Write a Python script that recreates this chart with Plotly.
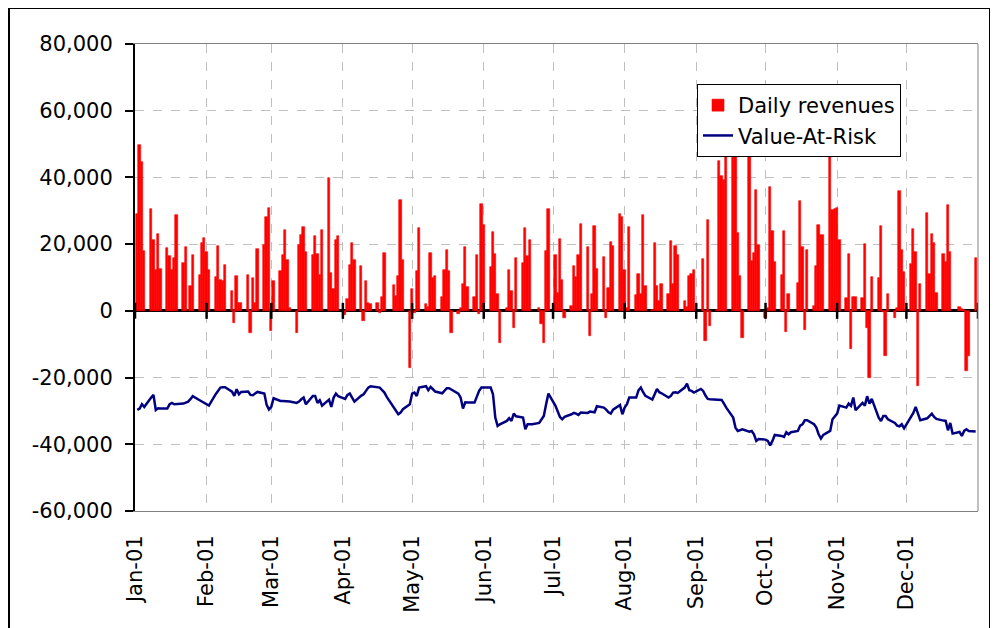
import pandas as pd
import plotly.graph_objects as go

# ---- data ----
rev_jan = [None, 29000, 49700, 44500, 18000, 30500, 21300, 12200, 22900, 12400, 18900, 16400, 12200, 15700, 28800,
           14300, 19100, None, 7400, 16700, 10900, 20400, 21900]
rev_feb = [17500, 12300, 10300, 19400, 9300, 9000, 13700, 5900, -3600, 10600, 2300, 2300, 10700, -6700, 9900, 2500,
           18600, 19600, 28200, 30800]
rev_mar = [-6000, 9100, 11900, 16600, 24300, 15100, 1000, -6700, 19700, 22700, 25100, 17700, 16700, 22300, 17000,
           10900, 24200, 39700, 11300, 6700, 21300, 22300]
rev_apr = [-1200, 3600, 13600, 20300, 15300, 13300, -3000, 9000, 2500, 2100, 2500, -700, 4300, 17300, None, 7800,
           4500, 10600, 33100, 15300, -17000]
rev_may = [6500, -500, 12000, 24800, 2200, 1100, 17400, 10000, 10500, 4200, 12300, 18300, 12000, -6700, -800, 1000,
           8000, 19000, 7200, 4300, 16800, -1000, 32000]
rev_jun = [25800, 13200, 23700, 17000, 5000, -9600, 800, 12100, 6000, -5000, 15800, 14300, 24700, 16400, 21300, None,
           1000, -4000, -9600, 18000, 30600]
rev_jul = [16600, 5300, 21400, 9400, -2000, 1500, 13400, 10200, 16800, 26000, 19100, -7600, 5200, 25400, 12600, 16200,
           -2000, 6800, 20600, 19300, 29000, 28000]
rev_aug = [12300, 1000, 25200, 4700, 11000, 5200, 28600, 7600, 300, 20300, 7400, 3000, 8000, 5100, 20800, 8100, 19300,
           16600, 3000, 1200, 10500, 11200, 12200]
rev_sep = [None, 15500, -9100, 27200, -4600, 300, 45000, 40500, 39200, 46000, 47800, 52000, 23300, 10500, -8000,
           52000, 15000, 17200, 36300, 19600]
rev_oct = [-2000, 1000, 37200, 24000, 14700, 10800, 24000, -6200, 5200, None, 8300, 33000, 19000, -5800, 18200, 1600,
           13500, 25800, 22700, 22800, 46200, 30200, 30500]
rev_nov = [30700, 21200, 4000, 17000, -11500, 4200, 4200, 3800, 20000, -5000, -20000, 10200, 9800, 25400, -400,
           -13500, 5200, -2000, 800, 35800, 18200, 11800]
rev_dec = [14000, 24600, 17500, -22600, 8100, 29300, 11200, 23000, 20200, 5500, 17100, 14700, 31700, 17500, None,
           1300, 600, 400, -18000, -13500, 15800]

var_jan = [None, -29700, -29300, -28000, -28800, -26000, -25200, -29700, -29200, -29300, -29300, -28000, -27600,
           -28000, -28000, -27800, -27500, -27200, -26500, -25600, -26800, -27200, -27600]
var_feb = [-28000, -28400, -24900, -24000, -23000, -22900, -22900, -24200, -25500, -23500, -25000, -24300, -24200,
           -25200, -25300, -24800, -24300, -24800, -28200, -29600]
var_mar = [-28800, -26200, -27000, -27000, -27000, -27200, -27200, -27600, -27200, -26500, -26000, -28000, -25500,
           -25500, -27600, -26800, -28400, -26600, -28800, -26000, -24800, -25600]
var_apr = [-26400, -25200, -24800, -26000, -27200, -25400, -25000, -24000, -23000, -22600, -22800, -23000, -23800,
           -24500, -25800, -29000, -30200, -31000, -30500, -29500, -28000]
var_may = [-24800, -24500, -25500, -23000, -22600, -23800, -22800, -23500, -24200, -24700, -24000, -23200, -23200,
           -23600, -24800, -26000, -29300, -27400, -27500, -27500, -25500, -24000, -23000]
var_jun = [-23000, -23000, -25000, -32000, -34500, -34000, -33000, -32200, -33000, -30800, -31600, -32000, -35500,
           -34000, -34000, -34000, -33600, -32500, -31500, -28000, -24800]
var_jul = [-28400, -30000, -31800, -32500, -31800, -31000, -30600, -30800, -31200, -30500, -30600, -30200, -30400,
           -30400, -28600, -29000, -29600, -30400, -30800, -29600, -28200, -31000]
var_aug = [-29000, -28000, -26000, -26000, -23800, -23000, -24400, -25500, -26600, -25000, -23400, -24400, -24700,
           -26000, -25500, -24500, -24400, -24600, -23000, -21800, -23800, -24000, -24500]
var_sep = [-23400, -24000, -25400, -26400, -26500, -26500, -26500, -26700, -27800, -29000, -32000, -35000, -36000,
           -35700, -35500, -36200, -36000, -37000, -39000, -38400]
var_oct = [-38600, -39000, -40300, -39000, -37200, -37500, -37800, -36400, -37000, -36400, -36000, -34400, -34000,
           -32800, -32800, -34000, -35000, -37000, -38300, -37200, -36000, -32500, -31800]
var_nov = [-30800, -28400, -29000, -27800, -28500, -26000, -29800, -27600, -28400, -25600, -27800, -26400, -32000,
           -33000, -31500, -31500, -32500, -33600, -34400, -34600, -34000, -35200]
var_dec = [-31600, -30600, -28800, -31200, -32800, -32200, -31400, -30800, -31800, -32400, -32900, -33000, -35800,
           -33600, -36800, -36300, -37500, -36000, -35500, -36000, -36200]

month_ticks = ["2001-01-01", "2001-02-01", "2001-03-01", "2001-04-01", "2001-05-01", "2001-06-01",
               "2001-07-01", "2001-08-01", "2001-09-01", "2001-10-01", "2001-11-01", "2001-12-01"]
month_labels = ["Jan-01", "Feb-01", "Mar-01", "Apr-01", "May-01", "Jun-01",
                "Jul-01", "Aug-01", "Sep-01", "Oct-01", "Nov-01", "Dec-01"]
year_end = "2002-01-01"
y_tick_vals = [-60000, -40000, -20000, 0, 20000, 40000, 60000, 80000]
y_tick_text = ["-60,000", "-40,000", "-20,000", "0", "20,000", "40,000", "60,000", "80,000"]

days = pd.bdate_range("2001-01-01", "2001-12-31")
revenues = rev_jan + rev_feb + rev_mar + rev_apr + rev_may + rev_jun + rev_jul + rev_aug + rev_sep + rev_oct + rev_nov + rev_dec
var = var_jan + var_feb + var_mar + var_apr + var_may + var_jun + var_jul + var_aug + var_sep + var_oct + var_nov + var_dec
assert len(days) == len(revenues) == len(var)

FONT = "DejaVu Sans"
# the page body has an 8px margin, so the figure sits at (8, 8) in the window
W, H = 990, 620
L, R, T, B = 127, 20, 36, 117
pw, ph = W - L - R, H - T - B

fig = go.Figure()
fig.add_trace(go.Bar(x=days, y=revenues, name="Daily revenues",
                     marker=dict(color="#ff0000", line=dict(width=0.6, color="#ff0000")),
                     width=86400000 * 1.0))
fig.add_trace(go.Scatter(x=days, y=var, name="Value-At-Risk", mode="lines", connectgaps=True,
                         line=dict(color="#000080", width=2.5)))

shapes = []
# month tick marks crossing the zero line
for d in month_ticks + [year_end]:
    shapes.append(dict(type="line", xref="x", yref="y", x0=d, x1=d, ysizemode="pixel", yanchor=0,
                       y0=-8, y1=8, line=dict(color="black", width=2.5)))
# right border of plot area
shapes.append(dict(type="line", xref="paper", yref="paper", x0=1, x1=1, y0=0, y1=1,
                   line=dict(color="#808080", width=1)))
# outer chart border
shapes.append(dict(type="rect", xref="paper", yref="paper",
                   x0=(1 - L) / pw, x1=(982 - L) / pw, y0=(H - B - 640) / ph, y1=(H - B - 0) / ph,
                   line=dict(color="black", width=2), fillcolor="rgba(0,0,0,0)", layer="below"))

fig.update_layout(
    width=W, height=H,
    margin=dict(l=L, r=R, t=T, b=B, autoexpand=False),
    paper_bgcolor="white", plot_bgcolor="white",
    font=dict(family=FONT, size=21, color="black"),
    bargap=0,
    showlegend=True,
    legend=dict(x=(689 - L) / pw, y=(H - B - 76) / ph, xanchor="left", yanchor="top",
                bgcolor="white", bordercolor="black", borderwidth=1,
                font=dict(family=FONT, size=21, color="black"),
                tracegroupgap=0, itemwidth=30),
    shapes=shapes,
    xaxis=dict(type="date", range=["2001-01-01", year_end], tickmode="array",
               tickvals=month_ticks, ticktext=month_labels, tickangle=-90,
               showgrid=True, gridcolor="#c0c0c0", griddash="dash", gridwidth=1,
               showline=True, linecolor="#808080", linewidth=1, mirror=True,
               ticks="", ticklabelstandoff=15, automargin=False, zeroline=False,
               tickfont=dict(family=FONT, size=21, color="black")),
    yaxis=dict(range=[-60000, 80000], tickmode="array", tickvals=y_tick_vals, ticktext=y_tick_text,
               showgrid=True, gridcolor="#c0c0c0", griddash="dash", gridwidth=1,
               showline=True, linecolor="black", linewidth=2,
               ticks="outside", ticklen=8, tickwidth=2, tickcolor="black", ticklabelstandoff=8,
               zeroline=True, zerolinecolor="black", zerolinewidth=2.5, automargin=False,
               tickfont=dict(family=FONT, size=21, color="black")),
)

fig.write_html("out.html")
